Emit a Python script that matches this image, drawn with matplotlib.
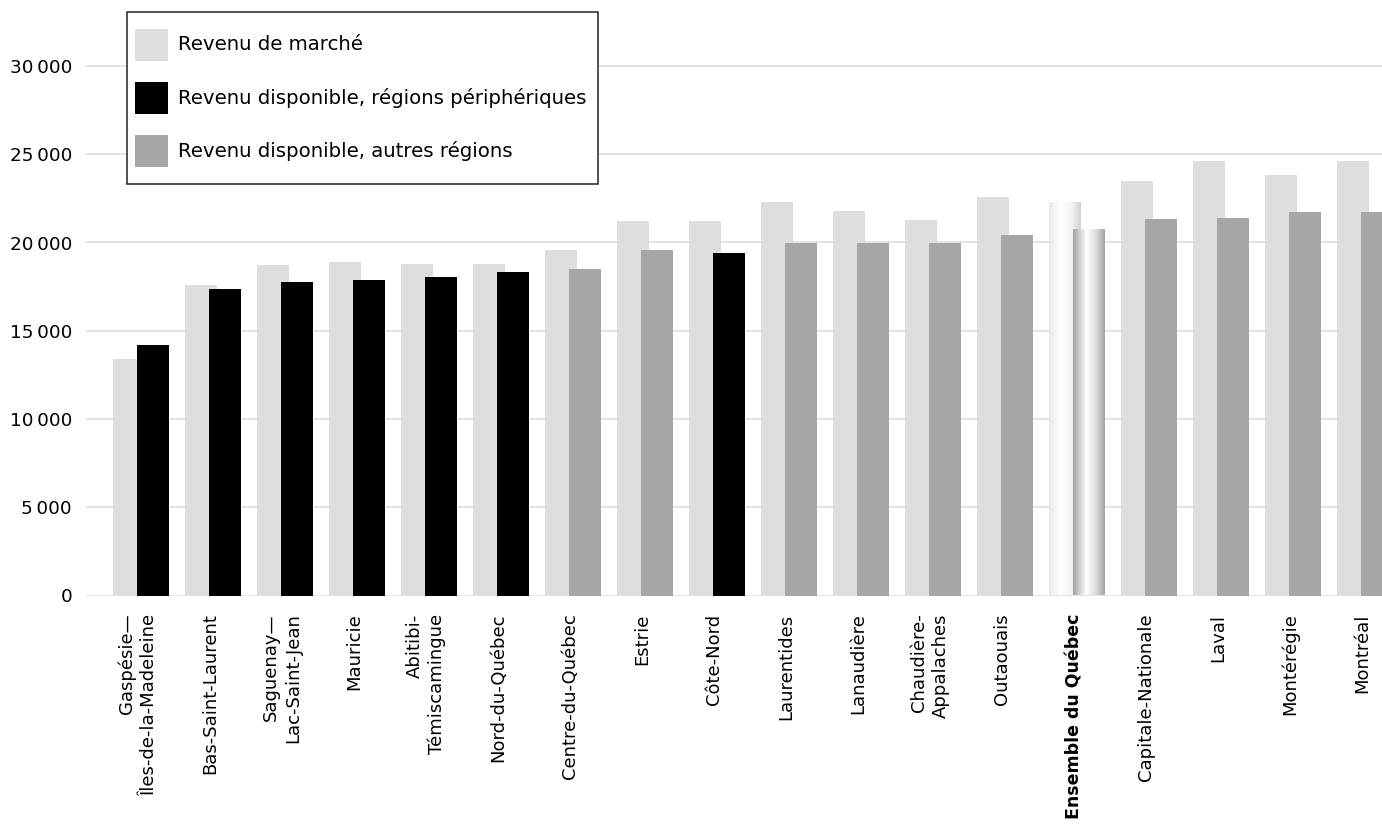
import numpy as np
import matplotlib
matplotlib.use("Agg")
import matplotlib.pyplot as plt
import matplotlib.transforms as mtransforms
from matplotlib.patches import Rectangle
from matplotlib.colors import LinearSegmentedColormap

plt.rcParams['font.family'] = ['DejaVu Sans']

# ---- data -------------------------------------------------------------
regions = [
    "Gaspésie—\nÎles-de-la-Madeleine", "Bas-Saint-Laurent", "Saguenay—\nLac-Saint-Jean",
    "Mauricie", "Abitibi-\nTémiscamingue", "Nord-du-Québec", "Centre-du-Québec",
    "Estrie", "Côte-Nord", "Laurentides", "Lanaudière", "Chaudière-\nAppalaches",
    "Outaouais", "Ensemble du Québec", "Capitale-Nationale", "Laval", "Montérégie",
    "Montréal",
]
market_income = [13400, 17600, 18700, 18900, 18800, 18800, 19600, 21200, 21200,
                 22300, 21800, 21300, 22600, 22300, 23500, 24600, 23800, 24600]
disposable_income = [14200, 17350, 17750, 17900, 18050, 18350, 18500, 19550, 19400,
                     19950, 19950, 19950, 20400, 20750, 21350, 21400, 21700, 21700]
peripheral = ["Gaspésie—\nÎles-de-la-Madeleine", "Bas-Saint-Laurent",
              "Saguenay—\nLac-Saint-Jean", "Mauricie", "Abitibi-\nTémiscamingue",
              "Nord-du-Québec", "Côte-Nord"]
whole_province = "Ensemble du Québec"
legend_labels = ["Revenu de marché", "Revenu disponible, régions périphériques",
                 "Revenu disponible, autres régions"]
y_ticks = [0, 5000, 10000, 15000, 20000, 25000, 30000]

# ---- styling ----------------------------------------------------------
C_MARKET = "#dedede"
C_PERIPH = "#000000"
C_OTHER = "#a6a6a6"
C_GRID = "#e4e4e4"
FS_Y = 13.2
FS_X = 13.0
FS_LEG = 14.2

W, H = 1382, 827
fig = plt.figure(figsize=(W / 100, H / 100), dpi=100)

px_per_cat = 72.0
x0_px = 141.0
left_px, bottom_px = 86.0, 595.5
ax = fig.add_axes([left_px / W, (H - bottom_px) / H, 1 - left_px / W, bottom_px / H])

x = np.arange(len(regions))
width = 32 / px_per_cat
offset = 12 / px_per_cat

dis_colors = [C_PERIPH if r in peripheral else C_OTHER for r in regions]

bars_m = ax.bar(x - offset, market_income, width=width, color=C_MARKET, zorder=2)
bars_d = ax.bar(x + offset, disposable_income, width=width, color=dis_colors, zorder=3)

# Province-wide bars get a cylinder-like horizontal gradient
gi = regions.index(whole_province)
grad_light = LinearSegmentedColormap.from_list(
    "gl", [(0, "#e8e8e8"), (0.35, "#ffffff"), (0.7, "#f3f3f3"), (1, "#d2d2d2")])
grad_dark = LinearSegmentedColormap.from_list(
    "gd", [(0, "#a2a2a2"), (0.42, "#ffffff"), (0.75, "#d8d8d8"), (1, "#a2a2a2")])
ramp = np.linspace(0, 1, 256).reshape(1, -1)
for bar, cmap, z in ((bars_m[gi], grad_light, 2.5), (bars_d[gi], grad_dark, 3.5)):
    bx, bw, bh = bar.get_x(), bar.get_width(), bar.get_height()
    bar.set_facecolor("none")
    im = ax.imshow(ramp, cmap=cmap, extent=[bx, bx + bw, 0, bh], aspect="auto",
                   zorder=z, interpolation="bilinear")
    im.set_clip_path(bar)

ax.set_xlim((left_px - x0_px) / px_per_cat, (W - x0_px) / px_per_cat)
ax.set_ylim(0, bottom_px / 17.65 * 1000)

ax.set_yticks(y_ticks)
ax.set_yticklabels([f"{v:,}".replace(",", "\u2009") for v in y_ticks], fontsize=FS_Y)
ax.yaxis.grid(True, color=C_GRID, linewidth=1.4, zorder=0)
ax.set_axisbelow(True)
ax.tick_params(axis="y", length=0, pad=10)

ax.set_xticks(x)
ax.set_xticklabels(regions, rotation=90, fontsize=FS_X, va="top", ha="center",
                   multialignment="right", linespacing=1.3)
ax.tick_params(axis="x", length=0, pad=13)
shift = mtransforms.ScaledTranslation(-3 / 100, 0, fig.dpi_scale_trans)
for lbl in ax.get_xticklabels():
    lbl.set_transform(lbl.get_transform() + shift)
    if lbl.get_text() == whole_province:
        lbl.set_fontweight("bold")
        lbl.set_fontsize(12.5)

for s in ax.spines.values():
    s.set_visible(False)

# ---- legend box --------------------------------------------------------
def fx(px):
    return px / W

def fy(py):
    return 1 - py / H

fig.patches.append(Rectangle((fx(127), fy(184)), fx(598) - fx(127), fy(12) - fy(184),
                             transform=fig.transFigure, facecolor="white",
                             edgecolor="#222222", linewidth=1.1, zorder=10))
for i, (lab, col) in enumerate(zip(legend_labels, [C_MARKET, C_PERIPH, C_OTHER])):
    top = 29 + 53 * i
    fig.patches.append(Rectangle((fx(135), fy(top + 32)), fx(168) - fx(135),
                                 fy(top) - fy(top + 32), transform=fig.transFigure,
                                 facecolor=col, edgecolor="none", zorder=11))
    fig.text(fx(178), fy(top + 16), lab, fontsize=FS_LEG, va="center", ha="left",
             zorder=12)

fig.savefig("out.png", dpi=100)
